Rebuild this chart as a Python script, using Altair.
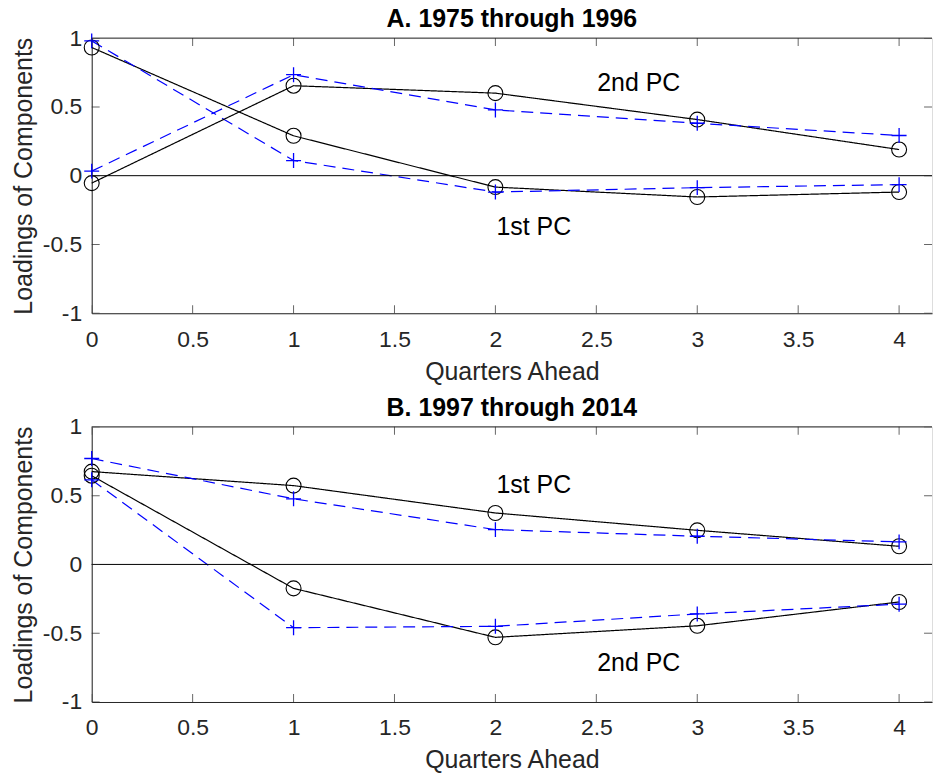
import altair as alt
import pandas as pd

# ---------------- data ----------------
quarters = [0, 1, 2, 3, 4]

panel_titles = ["A. 1975 through 1996", "B. 1997 through 2014"]

# Panel A
a_pc1_solid = [0.932, 0.29, -0.083, -0.155, -0.119]
a_pc1_dashed = [0.98, 0.11, -0.119, -0.087, -0.065]
a_pc2_solid = [-0.054, 0.654, 0.60, 0.408, 0.19]
a_pc2_dashed = [0.033, 0.734, 0.478, 0.381, 0.292]

# Panel B
b_pc1_solid = [0.675, 0.573, 0.374, 0.248, 0.132]
b_pc1_dashed = [0.77, 0.477, 0.253, 0.205, 0.164]
b_pc2_solid = [0.645, -0.174, -0.53, -0.446, -0.273]
b_pc2_dashed = [0.615, -0.46, -0.45, -0.36, -0.289]

x_ticks = [0, 0.5, 1, 1.5, 2, 2.5, 3, 3.5, 4]
y_ticks = [-1, -0.5, 0, 0.5, 1]

# text annotations: (label, x, y-baseline)
a_labels = [("2nd PC", 2.71, 0.618), ("1st PC", 2.19, -0.433)]
b_labels = [("1st PC", 2.19, 0.518), ("2nd PC", 2.71, -0.772)]

# ---------------- styling ----------------
W = 843
H = 276
X_MAX = 4.163
FONT = "Liberation Sans"
AX = "#262626"


def long_df(series):
    rows = []
    for pc, style, vals in series:
        for q, v in zip(quarters, vals):
            rows.append({"q": q, "v": v, "pc": pc, "style": style})
    return pd.DataFrame(rows)


def make_panel(title, series, labels):
    df = long_df(series)
    xs = alt.Scale(domain=[0, X_MAX], nice=False, zero=False)
    ys = alt.Scale(domain=[-1, 1], nice=False)

    x_enc = alt.X(
        "q:Q",
        scale=xs,
        axis=alt.Axis(
            values=x_ticks,
            labelExpr="format(datum.value, '~g')",
            labelFlush=False,
            ticks=False,
            grid=False,
            domainColor=AX,
            labelColor=AX,
            titleColor=AX,
            labelFontSize=23,
            titleFontSize=25,
            labelFont=FONT,
            titleFont=FONT,
            titleFontWeight="normal",
            labelPadding=15,
            titlePadding=8,
            title="Quarters Ahead",
        ),
    )
    y_enc = alt.Y(
        "v:Q",
        scale=ys,
        axis=alt.Axis(
            values=y_ticks,
            labelExpr="datum.value < 0 ? '-' + format(-datum.value, '~g') : format(datum.value, '~g')",
            labelFlush=False,
            ticks=False,
            grid=False,
            domainColor=AX,
            labelColor=AX,
            titleColor=AX,
            labelFontSize=23,
            titleFontSize=25,
            labelFont=FONT,
            titleFont=FONT,
            titleFontWeight="normal",
            labelPadding=10,
            titlePadding=6,
            title="Loadings of Components",
        ),
    )

    zero = (
        alt.Chart(pd.DataFrame({"z": [0]}))
        .mark_rule(color="black", strokeWidth=1)
        .encode(y=alt.Y("z:Q", scale=ys))
    )

    lines = (
        alt.Chart(df)
        .mark_line(strokeWidth=1.2)
        .encode(
            x=x_enc,
            y=y_enc,
            color=alt.Color(
                "style:N",
                scale=alt.Scale(domain=["solid", "dashed"], range=["#000000", "#0000ff"]),
                legend=None,
            ),
            strokeDash=alt.StrokeDash(
                "style:N",
                scale=alt.Scale(domain=["solid", "dashed"], range=[[1, 0], [12, 7]]),
                legend=None,
            ),
            detail="pc:N",
        )
    )

    circles = (
        alt.Chart(df)
        .transform_filter("datum.style == 'solid'")
        .mark_point(shape="circle", filled=False, size=225, color="black", strokeWidth=1.1, opacity=1)
        .encode(x=alt.X("q:Q", scale=xs), y=alt.Y("v:Q", scale=ys))
    )

    pluses = (
        alt.Chart(df)
        .transform_filter("datum.style == 'dashed'")
        .mark_point(shape="M-1,0L1,0M0,-1L0,1", filled=False, size=225, color="#0000ff", strokeWidth=1.3, opacity=1)
        .encode(x=alt.X("q:Q", scale=xs), y=alt.Y("v:Q", scale=ys))
    )

    lab_df = pd.DataFrame(labels, columns=["text", "x", "y"])
    texts = (
        alt.Chart(lab_df)
        .mark_text(font=FONT, fontSize=25, color="black", align="center", baseline="alphabetic")
        .encode(x=alt.X("x:Q", scale=xs), y=alt.Y("y:Q", scale=ys), text="text:N")
    )

    xt = pd.DataFrame({"t": x_ticks})
    yt = pd.DataFrame({"t": y_ticks})
    tick_style = dict(color=AX, thickness=1, size=16, clip=True)
    bottom_ticks = alt.Chart(xt).mark_tick(orient="vertical", **tick_style).encode(
        x=alt.X("t:Q", scale=xs), y=alt.value(H)
    )
    top_ticks = alt.Chart(xt).mark_tick(orient="vertical", **tick_style).encode(
        x=alt.X("t:Q", scale=xs), y=alt.value(0)
    )
    left_ticks = alt.Chart(yt).mark_tick(orient="horizontal", **tick_style).encode(
        y=alt.Y("t:Q", scale=ys), x=alt.value(0)
    )
    right_ticks = alt.Chart(yt).mark_tick(orient="horizontal", **tick_style).encode(
        y=alt.Y("t:Q", scale=ys), x=alt.value(W)
    )
    top_border = (
        alt.Chart(pd.DataFrame({"z": [0]}))
        .mark_rule(color=AX, strokeWidth=1)
        .encode(x=alt.value(0), x2=alt.value(W), y=alt.value(0))
    )

    return alt.layer(
        lines, zero, circles, pluses, texts,
        bottom_ticks, top_ticks, left_ticks, right_ticks, top_border,
    ).properties(
        width=W,
        height=H,
        title=alt.TitleParams(
            title, fontSize=25, fontWeight="bold", font=FONT, color="black",
            anchor="middle", offset=-5,
        ),
    )


panel_a = make_panel(
    panel_titles[0],
    [("pc1", "solid", a_pc1_solid), ("pc1d", "dashed", a_pc1_dashed),
     ("pc2", "solid", a_pc2_solid), ("pc2d", "dashed", a_pc2_dashed)],
    a_labels,
)
panel_b = make_panel(
    panel_titles[1],
    [("pc1", "solid", b_pc1_solid), ("pc1d", "dashed", b_pc1_dashed),
     ("pc2", "solid", b_pc2_solid), ("pc2d", "dashed", b_pc2_dashed)],
    b_labels,
)

chart = (
    alt.vconcat(panel_a, panel_b, spacing=10)
    .properties(padding={"left": 10, "top": 5, "right": 0, "bottom": 0})
    .configure_view(stroke=None)
    .configure(background="white")
)

chart.save("out.html", embed_options={"renderer": "svg", "actions": False})
